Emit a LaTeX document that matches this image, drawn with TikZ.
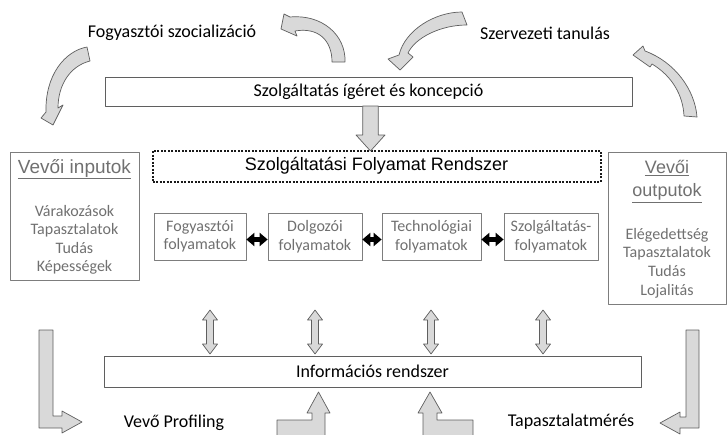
\documentclass[tikz,border=0pt]{standalone}
\usepackage{fontspec}
\setmainfont{Carlito}
\newfontfamily\arialf{Liberation Sans}
\usetikzlibrary{arrows.meta}
\definecolor{txtgray}{RGB}{112,112,112}
\definecolor{edgegray}{RGB}{125,125,125}
\definecolor{darkedge}{RGB}{95,95,95}
\definecolor{fillgray}{RGB}{217,217,217}
\begin{document}
\begin{tikzpicture}[
	x=1pt,y=-1pt,
	line join=round,
	box/.style={draw=darkedge,line width=0.8pt,inner sep=0pt,font=\fontsize{18}{21}\selectfont},
	procbox/.style={draw=edgegray,line width=0.7pt,minimum height=47pt,inner sep=0pt,align=center,text=txtgray,font=\fontsize{16}{18.5}\selectfont},
	sidebox/.style={draw=edgegray,line width=0.7pt,inner sep=0pt},
	lbl/.style={font=\fontsize{18}{21}\selectfont},
	blk/.style={draw=darkedge,fill=fillgray,line width=0.7pt},
	bidir/.style={line width=4.5pt,{Triangle[length=8pt,width=13pt]}-{Triangle[length=8pt,width=13pt]}}
	]
	\useasboundingbox (0,0) rectangle (727,434);
	% labels
	\node[lbl] (soc) at (172,33) {Fogyasztói szocializáció};
	\node[lbl] (tan) at (545,33) {Szervezeti tanulás};
	\node[lbl] (prof) at (174,423) {Vevő Profiling};
	\node[lbl] (meres) at (571,422) {Tapasztalatmérés};
	% main boxes
	\node[box,minimum width=527pt,minimum height=29pt] (prom) at (368.5,91.5) {Szolgáltatás ígéret és koncepció};
	\node[draw=black!90,line width=2pt,dash pattern=on 2pt off 1.5pt,minimum width=448pt,minimum height=31pt,inner sep=0pt,font=\arialf\fontsize{18}{21}\selectfont] (sfr) at (376.5,166) {Szolgáltatási Folyamat Rendszer};
	\node[box,minimum width=537pt,minimum height=31pt] (info) at (372.5,371.5) {Információs rendszer};
	% process boxes
	\node[procbox,minimum width=92pt] (p1) at (200,236.5) {Fogyasztói\\folyamatok};
	\node[procbox,minimum width=94pt] (p2) at (315,236.5) {Dolgozói\\folyamatok};
	\node[procbox,minimum width=99pt] (p3) at (431.5,236.5) {Technológiai\\folyamatok};
	\node[procbox,minimum width=94pt] (p4) at (551,236.5) {Szolgáltatás-\\folyamatok};
	\draw[bidir] ([yshift=-3pt]p1.east) -- ([yshift=-3pt]p2.west);
	\draw[bidir] ([yshift=-3pt]p2.east) -- ([yshift=-3pt]p3.west);
	\draw[bidir] ([yshift=-3pt]p3.east) -- ([yshift=-3pt]p4.west);
	% customer boxes
	\node[sidebox,minimum width=129pt,minimum height=128pt] (vin) at (74.5,216) {};
	\node[text=txtgray,font=\arialf\fontsize{19}{22}\selectfont] (vintitle) at (74.5,169) {\underline{Vevői inputok}};
	\node[text=txtgray,align=center,font=\fontsize{16}{18.5}\selectfont] (vinitems) at (74.5,240) {Várakozások\\Tapasztalatok\\Tudás\\Képességek};
	\node[sidebox,minimum width=118pt,minimum height=152pt] (vout) at (667,228) {};
	\node[text=txtgray,align=center,font=\arialf\fontsize{18}{23}\selectfont] (vouttitle) at (667,181.5) {\underline{Vevői}\\\underline{outputok}};
	\node[text=txtgray,align=center,font=\fontsize{16}{18.7}\selectfont] (voutitems) at (667,263) {Elégedettség\\Tapasztalatok\\Tudás\\Lojalitás};
	% block arrows
	\draw[blk] (362.7,106) -- (378.3,106) -- (378.3,135) -- (385,135) -- (370.5,151) -- (356,135) -- (362.7,135) -- cycle;
	\foreach \x in {210,315,431,543}
		\draw[blk] (\x,310) -- (\x+7.5,320) -- (\x+3.5,320) -- (\x+3.5,344) -- (\x+7.5,344) -- (\x,354) -- (\x-7.5,344) -- (\x-3.5,344) -- (\x-3.5,320) -- (\x-7.5,320) -- cycle;
	\draw[blk] (39,330) -- (53,330) -- (53,416) -- (62,416) -- (62,411) -- (82,422) -- (62,433) -- (62,428) -- (39,428) -- cycle;
	\draw[blk] (277,438) -- (277,420) -- (312,420) -- (312,413) -- (307,413) -- (318.5,392) -- (330,413) -- (325,413) -- (325,438);
	\draw[blk] (423,438) -- (423,413) -- (418,413) -- (430,392) -- (442,413) -- (437,413) -- (437,420) -- (473,420) -- (473,438);
	\draw[blk] (699,330) -- (686,330) -- (686,417) -- (680,417) -- (680,412) -- (660,423) -- (680,434) -- (680,428) -- (699,428) -- cycle;
	% curved arrows
	\draw[blk] (87,47) .. controls (65,51) and (45,75) .. (46,112) -- (41,118) -- (53,125) -- (63,105) -- (58,108) .. controls (58,85) and (70,66) .. (90,61) -- cycle;
	\draw[blk] (345,62) .. controls (346,35) and (322,14) .. (290,17) -- (284,14) -- (281,29) -- (297,36) -- (295,31) .. controls (318,27) and (332,40) .. (332,62) -- cycle;
	\draw[blk] (462,12) .. controls (435,12) and (405,30) .. (399,55) -- (388,59) -- (400,70) -- (413,57) -- (408,53) .. controls (415,38) and (440,25) .. (467,25) -- cycle;
	\draw[blk] (697,117) .. controls (695,90) and (675,62) .. (645,51) -- (643,46) -- (633,55) -- (650,67) -- (652,64) .. controls (672,76) and (683,95) .. (684,116) -- cycle;
\end{tikzpicture}
\end{document}
